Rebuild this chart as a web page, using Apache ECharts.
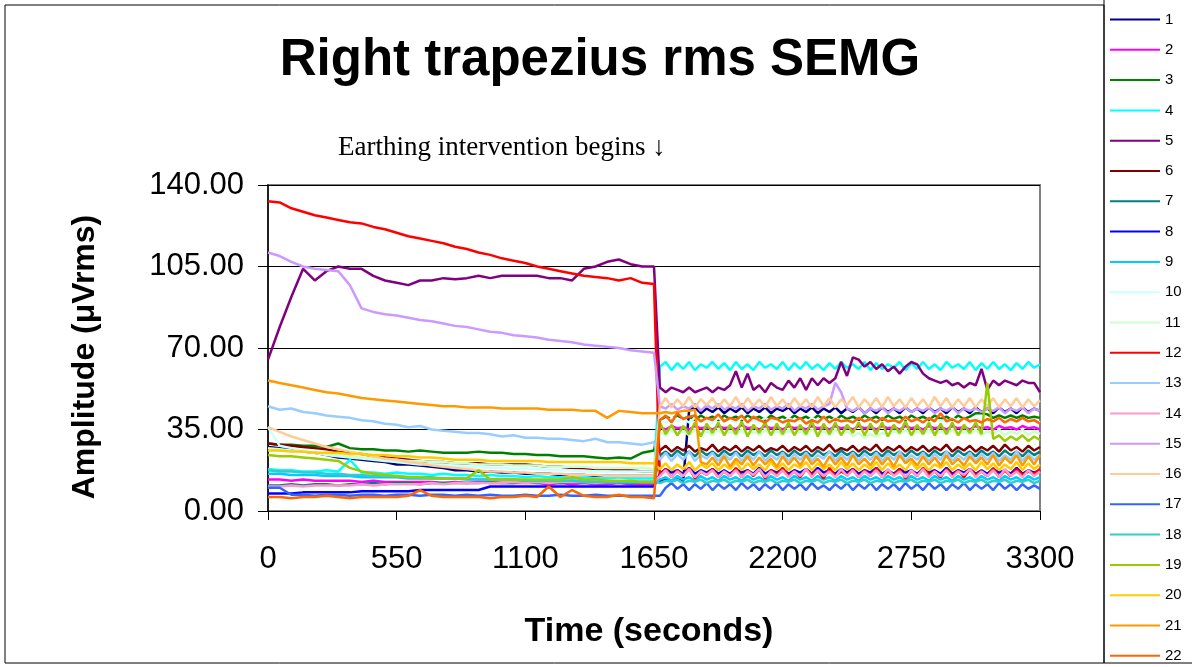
<!DOCTYPE html>
<html lang="en">
<head>
    <meta charset="UTF-8">
    <title>Right trapezius rms SEMG</title>
    <script type="text/javascript" src="https://cdn.jsdelivr.net/npm/echarts@6/dist/echarts.min.js"></script>
    <style>
        html, body { margin: 0; padding: 0; background: #fff; }
    </style>
</head>
<body>
<div id="main" style="width: 1192px;height: 667px"></div>

<script>
    // sample times (s): every 50 s before the intervention, every 25 s after
    var times = [
        0,50,100,150,200,250,300,350,400,450,500,550,600,650,700,750,800,
        850,900,950,1000,1050,1100,1150,1200,1250,1300,1350,1400,1450,1500,1550,1600,1650,
        1675,1700,1725,1750,1775,1800,1825,1850,1875,1900,1925,
        1950,1975,2000,2025,2050,2075,2100,2125,2150,2175,2200,
        2225,2250,2275,2300,2325,2350,2375,2400,2425,2450,2475,
        2500,2525,2550,2575,2600,2625,2650,2675,2700,2725,2750,
        2775,2800,2825,2850,2875,2900,2925,2950,2975,3000,3025,
        3050,3075,3100,3125,3150,3175,3200,3225,3250,3275,3300
    ];

    var s1 = [
        27.5,27,26.5,25.5,25,24,23,22.5,22,21.5,21,20,20,19.5,19,18.5,17.5,
        17.5,17,17,16.5,16.5,16,16,16,15.5,15.5,15.5,15,15,15,15,15,15,
        13,13.5,13,13.5,13,43,44.5,42,44,42.5,44.5,
        42,44,42.5,44.5,42,44,42.5,44.5,42,44,43,
        44.5,42,44,42.5,44.5,42,44,42.5,44.5,42,44,
        42.5,44.5,42,44,42,44.5,42.5,44,42,44.5,42.5,
        44,42,44.5,42.5,44,42,44.5,42.5,44,42,44.5,
        42.5,44,42,44.5,42.5,44,42,44.5,42.5,44,43
    ];
    var s2 = [
        13.5,13.5,13,13.5,13,13,13,13,12.5,13,12.5,12.5,12.5,12.5,12.5,12,12.5,
        12,12.5,12,12,12,12,12,11.5,12,11.5,12,11.5,11.5,12,11.5,11.5,11.5,
        36,35,36.5,35.5,36,35,36.5,35.5,36,35,36.5,
        35.5,36,35,37,35.5,36,35,36.5,35.5,36,35,
        36.5,35.5,36,35,36.5,35.5,36,35,36.5,35.5,36,
        35,36.5,35.5,36,35,36.5,35.5,36,35,36.5,35.5,
        36,35,36.5,35.5,36,35,36.5,35.5,36,35,36.5,
        35.5,36,35,36.5,35.5,36,35,36.5,35.5,36,35
    ];
    var s3 = [
        29,28.5,28.5,28,28,27.5,29,27,26.5,26.5,26,26,25.5,26,25.5,25,25,
        25,25.5,25,25,24.5,24.5,24,24,23.5,23.5,23.5,23,22.5,23,22.5,25,26,
        39,40.5,39.5,41,39.5,40.5,39,41,39.5,40.5,39,
        41,39.5,40.5,39,41,39.5,40.5,39,41,39.5,40.5,
        39,41,39.5,40.5,39,41,39.5,40.5,39,41,39.5,
        40.5,39,41,39.5,40.5,39,41,39.5,40.5,39,41,
        39.5,40.5,39,41,39.5,40.5,39,41,39.5,40.5,42,
        42,41.5,40,41,40,41,40,41,40,40.5,40
    ];
    var s4 = [
        18,17.5,17.5,17,17,17.5,17,22,16.5,16.5,16,16.5,16,16,15.5,16,15.5,
        15.5,15,15.5,15,15,14.5,15,14.5,14.5,14,14.5,14,14,14.5,14,14,14,
        62,64,60.5,63.5,61,64,60.5,63,61.5,64,61,
        63.5,60.5,64,61,63,60.5,64,61.5,63,61,64,
        60.5,63.5,61,64,61,63,60.5,63.5,61,64,61.5,
        63,61,64,60.5,63.5,61,63,61.5,64,60.5,63.5,
        61,64,61,63,60.5,64,61.5,63,61,64,60.5,
        63.5,61,64,61,63,60.5,63.5,61,64,61.5,63
    ];
    var s5 = [
        65,79,92,104,99,103,105,104,104,101,99,98,97,99,99,100,99.5,
        100,101,100,101,101,101,101,100,100,99,104,105,107,108,106,105,105,
        53,51,53,52,51,53,51,52,53,51,53,
        52,54,60,53,59,52,54,51,55,53,52,
        56,53,57,52,57,54,57,55,57,64,58,
        66,65,62,64,61,63,60,62,59,62,64,
        63,59,57,56,55,56,54,55,53,55,54,
        61,52,56,54,56,55,54,56,55,55,51
    ];
    var s6 = [
        29,28.5,28,27.5,27,26.5,25.5,25,24.5,23.5,23,22.5,22,21.5,21,21,20.5,
        20.5,20.5,20,20,20,20,19.5,19,19,18.5,18.5,18,18,17.5,17.5,17,17,
        26,28,25.5,27.5,26,28,25.5,27,26,28.5,25.5,
        27.5,26,28,25.5,27.5,26,28,25.5,27,26,28,
        25.5,27.5,26,28,25.5,27.5,26,28.5,25.5,27,26,
        28,25.5,27.5,26,28.5,25.5,27.5,26,28,25.5,27.5,
        26,28,25.5,27.5,26,28.5,25.5,27.5,26,28,25.5,
        27.5,26,28,25.5,28.5,26,27.5,25.5,28,26,27.5
    ];
    var s7 = [
        11,11,11.5,11,11.5,11.5,11,11.5,11.5,12,11.5,12,12,11.5,12,12,12,
        12,12,12.5,12,12,12.5,12,12.5,12,12.5,12.5,12,12.5,12.5,12,12.5,12.5,
        24,25.5,23.5,26,24,25.5,23.5,26,24,25.5,23.5,
        26,24,25.5,23.5,26,24,25.5,23.5,26,24,25.5,
        23.5,26,24,25.5,23.5,26,24,25.5,23.5,26,24,
        25.5,23.5,26,24,25.5,23.5,26,24,25.5,23.5,26,
        24,25.5,23.5,26,24,25.5,23.5,26,24,25.5,23.5,
        26,24,25.5,23.5,26,24,25.5,23.5,26,24,25.5
    ];
    var s8 = [
        7.5,7.5,7.5,8,8,8,8,8,8.5,8.5,8.5,8.5,8.5,9,9,9,9,
        9,9,10.5,10.5,10.5,10.5,10.5,10.5,10.5,10.5,10.5,10.5,10.5,10.5,10.5,10.5,10.5,
        16,18,16.5,17.5,16,18.5,16,17.5,16.5,18,16,
        17.5,16,18,16.5,17.5,16,18.5,16,17.5,16.5,18,
        16,17.5,16.5,18,16,18.5,16.5,17.5,16,18,16.5,
        18,16,17.5,16.5,18.5,16,17.5,16,18,16.5,17.5,
        16,18,16.5,17.5,16,18.5,16,17.5,16.5,18,16,
        17.5,16,18,16.5,17.5,16,18.5,16,17.5,16.5,17.5
    ];
    var s9 = [
        16,16,15.5,15.5,15.5,15,15,15,14.5,14.5,14.5,14.5,14,14,14,14,14,
        13.5,13.5,13.5,13.5,13.5,13,13,13,13,13,13,12.5,12.5,12.5,12.5,12.5,12.5,
        13.5,14.5,13,15,13.5,14.5,13,15,13.5,14.5,13,
        15,13.5,14.5,13,15,13.5,14.5,13,15,13.5,14.5,
        13,15,13.5,14.5,13,15,13.5,14.5,13,15,13.5,
        14.5,13,15,13.5,14.5,13,15,13.5,14.5,13,15,
        13.5,14.5,13,15,13.5,14.5,13,15,13.5,14.5,13,
        15,13.5,14.5,13,15,13.5,14.5,13,15,13.5,14.5
    ];
    var s10 = [
        36,28,27,26,25,24,23.5,23,22.5,22,21.5,21,20.5,20,20,19.5,19.5,
        19,19,18.5,18.5,18,18,18,17.5,17.5,17.5,17,17,17,17,17,17,17,
        39,38,40,38.5,39.5,38,40,38.5,39,38,40,
        38.5,39.5,38,40,38.5,39,38,40,38.5,39.5,38,
        40,38.5,39,38,40,38.5,39.5,38,40,38.5,39,
        38,40,38.5,39.5,38,40,38.5,39,38,40,38.5,
        39.5,38,40,38.5,39,38,40,38.5,39.5,38,40,
        38.5,39,38,40,38.5,39.5,38,40,38.5,39,38
    ];
    var s11 = [
        27,26.5,26,25.5,25,24.5,24,23.5,23,22.5,22,22,21.5,21.5,21,21,20.5,
        20.5,20,20,20,19.5,19.5,19.5,19,19,19,19,18.5,18.5,18.5,18.5,18.5,18,
        34,32.5,35,33,34.5,32.5,35,33,34.5,32.5,35,
        33,34.5,32.5,35,33,34.5,32.5,35,33,34.5,32.5,
        35,33,34.5,32.5,35,33,34.5,32.5,35,33,34.5,
        32,33.5,31.5,33,32,33.5,32.5,34.5,33,35,32.5,
        34.5,33,35,32.5,34.5,33,35,32.5,34.5,33,35,
        32.5,34.5,33,35,32.5,34.5,33,35,32.5,34.5,33
    ];
    var s12 = [
        133,132.5,130,128.5,127,126,125,124,123.5,122,121,119.5,118,117,116,115,113.5,
        112.5,111,110,108.5,107.5,106.5,105,104,103,102,101,100.5,100,99,100,98,97.5,
        15,18,14.5,17.5,15,18.5,14,17,15.5,18,14.5,
        17,15,18.5,14.5,17.5,15,18,14,17.5,15.5,18.5,
        15,17,14.5,18,15.5,17.5,14,18.5,15,17,15.5,
        18,14.5,17.5,15,18.5,14.5,17,15.5,18,14,17.5,
        15,18.5,15.5,17,14.5,18,15,17.5,14.5,18,15.5,
        17,15,18.5,14.5,17.5,15,18,15.5,17,16,18
    ];
    var s13 = [
        45,43.5,44,42.5,42,41,40.5,40,39,38.5,37.5,37,36,36.5,35,34.5,34,
        33.5,33.5,33,32,32.5,31.5,31.5,31,31,30.5,30,31,29.5,29.5,29,28.5,29.5,
        22,25,21.5,24.5,22,25.5,21.5,24,22.5,25,21.5,
        24.5,22,25,21.5,24.5,22,25.5,21.5,24,22,25,
        21.5,24.5,22,25,21.5,24,22.5,25.5,21.5,24.5,22,
        25,21.5,24.5,22,25,21.5,24.5,22,25.5,21.5,24,
        22,25,21.5,24.5,22,25.5,21.5,24,22,25,21.5,
        24.5,22,25,21.5,24,22,25.5,21.5,24.5,22,24
    ];
    var s14 = [
        10.5,10.5,11,10.5,11,11,11,11,11.5,11,11.5,11.5,11.5,11.5,12,11.5,12,
        12,12,12,12,12.5,12,12.5,12,12.5,12.5,12.5,12,12.5,12.5,12.5,12.5,12.5,
        15,17.5,14.5,17,15,18,14.5,17,15.5,17.5,14.5,
        17,15,17.5,14.5,17,15.5,18,14.5,17,15,17.5,
        14.5,17,15,18,14.5,17.5,15,17,14.5,18,15,
        17.5,14.5,17,15,17.5,14.5,18,15,17,14.5,17.5,
        15,18,14.5,17,15,17.5,14.5,17,15.5,18,14.5,
        17,15,17.5,14.5,18,15,17,14.5,17.5,15,17
    ];
    var s15 = [
        111,109.5,107,105,104,103.5,103,97,87,85.5,84.5,84,83,82,81.5,80.5,79.5,
        79,78,77,76.5,75.5,75,74.5,73.5,73,72.5,71.5,71,70.5,70,69,68.5,68,
        45,44,46,43.5,45,44,46,43,45.5,44,46,
        43.5,45,44,46,43,45,44,46,43.5,45,44,
        46,43,45,44,46,43.5,45,46,55,51,44,
        43,44.5,42,44,43,44.5,42,44,43,44.5,42.5,
        44,43,44.5,42,44,43,44.5,42,44,43,44,
        42.5,44,43,44.5,42,44,43,44.5,42,44,43
    ];
    var s16 = [
        36,34,32,30.5,29,27.5,26.5,25.5,24.5,23.5,22.5,22,21,20.5,19.5,19,18.5,
        18,17.5,17,17,16.5,16.5,16,16,16,15.5,15.5,15.5,15,15,15,15,15,
        45,48.5,44.5,48,45,49,44.5,48,45.5,48.5,44.5,
        48,45,49,44.5,48.5,45,48,44.5,49,45,48,
        44.5,48.5,45,48,44.5,49,45,48.5,44.5,48,45.5,
        49,44.5,48,45,48.5,44.5,49,45,48,44.5,48.5,
        45,48,44.5,49,45,48.5,44.5,48,45,48.5,44.5,
        48,45,48.5,44.5,48,45,48.5,44.5,48,45,47.5
    ];
    var s17 = [
        10,10,7,7,6.5,7,7,6.5,7,7,6.5,7,7,6.5,7,7,6.5,
        7,6.5,7,6.5,6.5,7,6.5,6.5,7,6.5,6.5,7,6.5,6.5,6.5,6.5,6.5,
        6.5,10,12,9.5,11.5,9,11.5,9.5,12,9,11.5,
        9.5,11.5,9,12,9.5,11.5,9,11.5,9.5,12,9,
        11.5,9.5,11.5,9,12,9.5,11,9,11.5,9.5,12,
        9,11.5,9.5,12,9,11.5,9.5,11.5,9,12,9.5,
        11.5,9,12,9.5,11.5,9,11.5,9.5,12,9,11.5,
        9.5,11.5,9,12,9.5,11.5,9,11.5,9.5,11,9.5
    ];
    var s18 = [
        17.5,17,17,16.5,16.5,16,16,15.5,15.5,15,15,15,14.5,14.5,14.5,14,14,
        14,13.5,13.5,13.5,13.5,13,13,13,13,13,12.5,12.5,12.5,12.5,12.5,12.5,12.5,
        12,13,12.5,13.5,12,13,12.5,13.5,12,13,12.5,
        13.5,12,13,12.5,13.5,12,13,12.5,13.5,12,13,
        12.5,13.5,12,13,12.5,13.5,12,13,12.5,13.5,12,
        13,12.5,13.5,12,13,12.5,13.5,12,13,12.5,13.5,
        12,13,12.5,13.5,12,13,12.5,13.5,12,13,12.5,
        13.5,12,13,12.5,13.5,12,13,12.5,13.5,12,13
    ];
    var s19 = [
        24,23.5,23.5,23,22.5,22,21.5,18.5,17,16,15.5,15,14.5,14.5,14,14,14,
        14,17.5,13.5,13.5,13.5,13.5,13.5,13.5,13.5,14.5,13.5,13.5,13,13,13,12.5,12.5,
        38,33,37,32.5,36.5,33,38,32,37.5,33.5,38,
        32.5,37,33,38.5,32,37,33.5,38,32.5,37.5,33,
        38,32.5,37,33,38.5,32,37.5,33,38,32.5,37,
        33.5,38,32.5,37.5,33,38,32,37,33.5,38.5,32.5,
        37,33,38,32.5,37.5,33,38,32.5,37,33.5,38,
        33,55,31,32.5,30,32,30.5,32.5,30,32,30.5
    ];
    var s20 = [
        26,26,25.5,25.5,25,25,25,24.5,24.5,24,24,23.5,23.5,23,23,22.5,22,
        22,22,21.5,21.5,21.5,21.5,21.5,21,21,21,21,21,21,21,20.5,20.5,20.5,
        18,20.5,17.5,20,18,21,17.5,20,18.5,20.5,17.5,
        20,18,21,17.5,20.5,18,20,17.5,21,18,20.5,
        17.5,20,18.5,21,17.5,20.5,18,20,17.5,21,18,
        20.5,17.5,20,18,21,17.5,20.5,18,20,17.5,21,
        18,20.5,17.5,20,18.5,21,17.5,20,18,20.5,17.5,
        21,18,20.5,17.5,20,18,21,17.5,20.5,18,20
    ];
    var s21 = [
        56,55,54,53,52,51,50.5,49.5,48.5,48,47.5,47,46.5,46,45.5,45,45,
        44.5,44.5,44.5,44,44,44,44,43.5,43.5,43.5,43,43,40,43,42.5,42,42,
        42,42.5,42,42.5,43,43,43.5,21,20,23,19.5,
        23.5,19,22.5,20,23.5,19.5,23,20,22.5,19,23.5,
        20,23,19.5,24,20,22.5,19,23.5,20,23,19.5,
        24,20,22.5,19.5,23.5,20,23,19,24,20.5,22.5,
        19.5,23.5,20,23,19.5,24,20,22.5,19.5,23.5,20.5,
        23,20,24,19.5,23,20.5,24,19.5,23.5,20,24
    ];
    var s22 = [
        6,6,5.5,6,6,6.5,6,5.5,6,6,6,6,6.5,9,6.5,6,6,
        6,6,5.5,6,6,6.5,6,10.5,6,9,6.5,6,6,7,6,6,5.5,
        39,41,38,42,39.5,40.5,41,38.5,40,39,41.5,
        38.5,40,39,41,38,40.5,39,38,40,39.5,38,
        39,38.5,40,37.5,39,38,40.5,38,39.5,38.5,39,
        38,40,38.5,39.5,38,40,38.5,39,38,40.5,38.5,
        39.5,38,40,38.5,42,38.5,39.5,38,40,38.5,39,
        38,39.5,38.5,40,38,39.5,38.5,40,38.5,39,37.5
    ];

    var names = ['1','2','3','4','5','6','7','8','9','10','11','12','13','14','15','16','17','18','19','20','21','22'];
    var colors = ['#000080','#FF00FF','#008000','#00FFFF','#800080','#800000','#008080','#0000FF','#00CCFF','#CCFFFF','#CCFFCC',
                  '#FF0000','#99CCFF','#FF99CC','#CC99FF','#FFCC99','#3366FF','#33CCCC','#99CC00','#FFCC00','#FF9900','#FF6600'];
    var values = [s1,s2,s3,s4,s5,s6,s7,s8,s9,s10,s11,s12,s13,s14,s15,s16,s17,s18,s19,s20,s21,s22];
    var yTicks = [0, 35, 70, 105, 140];
    var xTicks = [0, 550, 1100, 1650, 2200, 2750, 3300];

    var chartDom = document.getElementById('main');
    var myChart = echarts.init(chartDom);
    var option;

    var series = [];
    for (var i = 0; i < names.length; i++) {
        var pts = [];
        for (var j = 0; j < times.length; j++) {
            pts.push([times[j], values[i][j]]);
        }
        series.push({
            name: names[i],
            type: 'line',
            data: pts,
            showSymbol: false,
            symbol: 'none',
            lineStyle: { width: 2.5, color: colors[i] },
            itemStyle: { color: colors[i] }
        });
    }

    option = {
        animation: false,
        backgroundColor: '#fff',
        color: colors,
        grid: {
            left: 268,
            right: 152,
            top: 185,
            bottom: 156,
            show: true,
            borderColor: '#808080',
            borderWidth: 2
        },
        legend: {
            data: names,
            orient: 'vertical',
            left: 1110,
            top: 12,
            padding: 0,
            icon: 'rect',
            itemWidth: 50,
            itemHeight: 2,
            itemGap: 15.3,
            textStyle: { fontSize: 15, color: '#000', fontFamily: 'Arial, "Liberation Sans", sans-serif' }
        },
        xAxis: {
            type: 'value',
            min: xTicks[0],
            max: xTicks[xTicks.length - 1],
            interval: 550,
            axisLine: { show: true, lineStyle: { color: '#000', width: 1 } },
            axisTick: { show: true, length: 9, lineStyle: { color: '#000' } },
            axisLabel: {
                fontSize: 31, color: '#000', margin: 33,
                fontFamily: 'Arial, "Liberation Sans", sans-serif',
                formatter: function (v) { return String(v); }
            },
            splitLine: { show: false }
        },
        yAxis: {
            type: 'value',
            min: yTicks[0],
            max: yTicks[yTicks.length - 1],
            interval: 35,
            axisLine: { show: true, lineStyle: { color: '#000', width: 1.5 } },
            axisTick: { show: true, length: 10, lineStyle: { color: '#000' } },
            axisLabel: {
                fontSize: 31, color: '#000', margin: 24,
                fontFamily: 'Arial, "Liberation Sans", sans-serif',
                formatter: function (v) { return v.toFixed(2); }
            },
            splitLine: { show: true, lineStyle: { color: '#000', width: 1 } }
        },
        graphic: [
            { type: 'rect', shape: { x: 5, y: 5, width: 1099, height: 658 }, style: { fill: 'none', stroke: '#000', lineWidth: 1 }, silent: true },
            { type: 'rect', shape: { x: 1104, y: -5, width: 100, height: 668 }, style: { fill: 'none', stroke: '#000', lineWidth: 1 }, silent: true },
            {
                type: 'text',
                style: {
                    text: 'Right trapezius rms SEMG', x: 600, y: 61, textAlign: 'center', textVerticalAlign: 'middle',
                    font: 'bold 51px Arial, "Liberation Sans", sans-serif', fill: '#000'
                }
            },
            {
                type: 'text',
                style: {
                    text: 'Earthing intervention begins \u2193', x: 338, y: 148, textAlign: 'left', textVerticalAlign: 'middle',
                    font: '27px "Times New Roman", "Liberation Serif", serif', fill: '#000'
                }
            },
            {
                type: 'text', x: 85, y: 357, rotation: Math.PI / 2,
                style: {
                    text: 'Amplitude (\u03bcVrms)', x: 0, y: 0, textAlign: 'center', textVerticalAlign: 'middle',
                    font: 'bold 32px Arial, "Liberation Sans", sans-serif', fill: '#000'
                }
            },
            {
                type: 'text',
                style: {
                    text: 'Time (seconds)', x: 649, y: 632, textAlign: 'center', textVerticalAlign: 'middle',
                    font: 'bold 34px Arial, "Liberation Sans", sans-serif', fill: '#000'
                }
            }
        ],
        series: series
    };

    myChart.setOption(option);
</script>
</body>
</html>
